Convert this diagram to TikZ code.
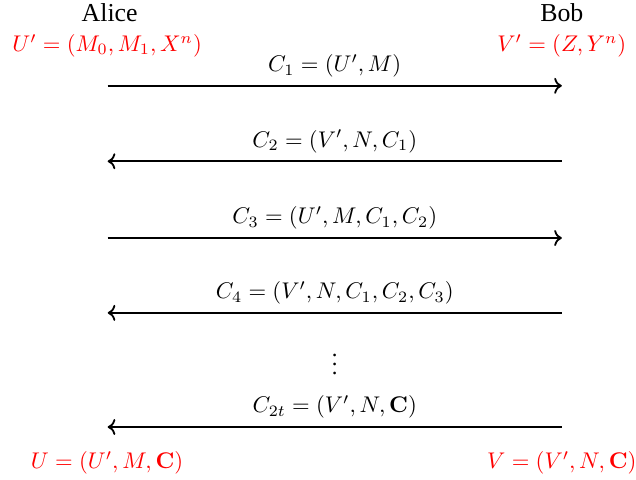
\documentclass[tikz,border=0pt]{standalone}
\usepackage{amsmath,amssymb}
\usepackage[no-math]{fontspec}
\setmainfont{Liberation Serif}
\usetikzlibrary{arrows.meta,positioning,calc}

\begin{document}
\begin{tikzpicture}[msg/.style={thick},lab/.style={text=red},party/.style={font=\fontsize{11.4}{13}\selectfont}]
\useasboundingbox (0,0) rectangle (9.86,-7.44);
\node[party] (alice) at (1.7,-0.19) {Alice};
\node[party] (bob) at (8.71,-0.19) {Bob};
\node[lab] (uprime) at (1.66,-0.71) {$U'=(M_0,M_1,X^n)$};
\node[lab] (vprime) at (8.71,-0.71) {$V'=(Z,Y^n)$};
% messages
\coordinate (a1) at (1.67,-1.33); \coordinate (b1) at (8.71,-1.33);
\draw[msg,->] (a1) -- node[above] {$C_1=(U',M)$} (b1);
\coordinate (a2) at (1.67,-2.50); \coordinate (b2) at (8.71,-2.50);
\draw[msg,->] (b2) -- node[above] {$C_2=(V',N,C_1)$} (a2);
\coordinate (a3) at (1.67,-3.69); \coordinate (b3) at (8.71,-3.69);
\draw[msg,->] (a3) -- node[above] {$C_3=(U',M,C_1,C_2)$} (b3);
\coordinate (a4) at (1.67,-4.85); \coordinate (b4) at (8.71,-4.85);
\draw[msg,->] (b4) -- node[above] {$C_4=(V',N,C_1,C_2,C_3)$} (a4);
\node (dots) at (5.19,-5.55) {$\vdots$};
\coordinate (a5) at (1.67,-6.62); \coordinate (b5) at (8.71,-6.62);
\draw[msg,->] (b5) -- node[above] {$C_{2t}=(V',N,\mathbf{C})$} (a5);
% final outputs
\node[lab] (u) at (1.66,-7.18) {$U=(U',M,\mathbf{C})$};
\node[lab] (v) at (8.71,-7.18) {$V=(V',N,\mathbf{C})$};
\end{tikzpicture}
\end{document}
